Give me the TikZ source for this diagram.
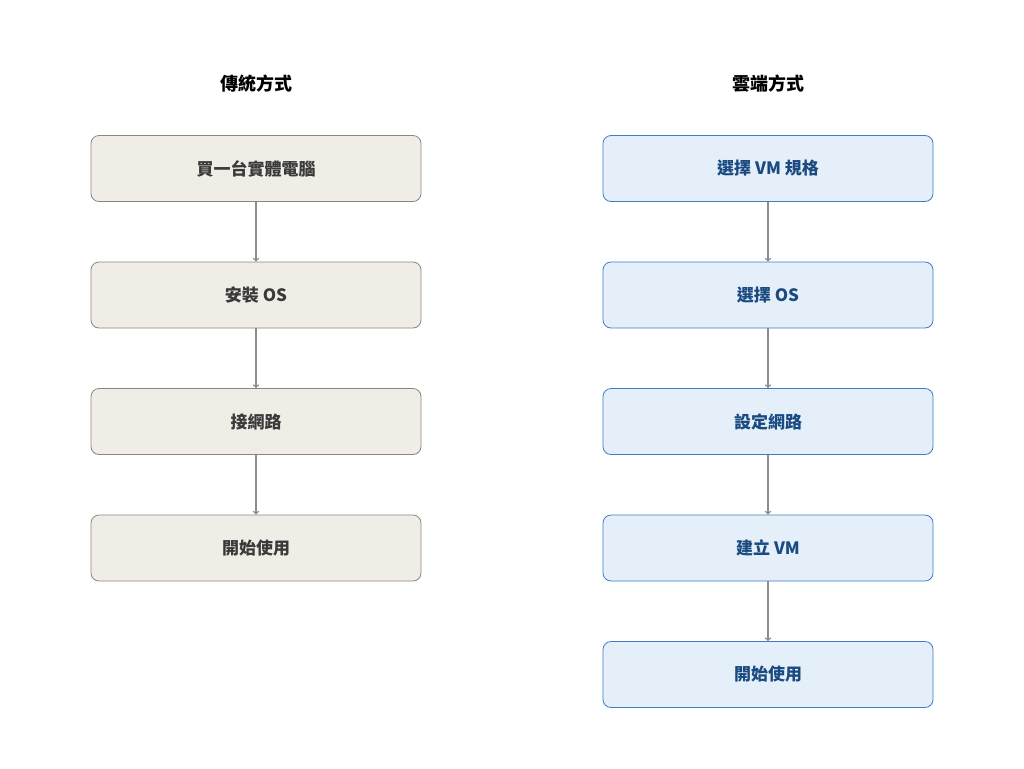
\documentclass[tikz,border=0pt]{standalone}
\usepackage{fontspec}
\setmainfont{Noto Sans CJK TC}
\usetikzlibrary{positioning}
\definecolor{oldfill}{HTML}{F0EDE6}
\definecolor{olddraw}{HTML}{8A8780}
\definecolor{oldtext}{HTML}{3A3A3A}
\definecolor{newfill}{HTML}{E4EFFA}
\definecolor{newdraw}{HTML}{3E7CC4}
\definecolor{newtext}{HTML}{1A4A80}
\begin{document}
\begin{tikzpicture}[x=1pt,y=-1pt,
    stage/.style={rectangle, rounded corners=8pt, minimum width=330pt, minimum height=66pt,
      line width=0.8pt, font=\fontsize{17}{20}\selectfont\bfseries},
    old/.style={stage, fill=oldfill, draw=olddraw, text=oldtext},
    new/.style={stage, fill=newfill, draw=newdraw, text=newtext},
    flow/.style={->, >=to, draw=gray!90, line width=1.4pt},
    title/.style={font=\fontsize{18}{22}\selectfont\bfseries, text=black}]
  \useasboundingbox (0,0) rectangle (1024,768);
  \node[title] (told) at (256,84) {傳統方式};
  \node[title] (tnew) at (768,84) {雲端方式};
  % traditional
  \node[old] (o1) at (256,168.5) {買一台實體電腦};
  \node[old] (o2) at (256,295) {安裝 OS};
  \node[old] (o3) at (256,421.5) {接網路};
  \node[old] (o4) at (256,548) {開始使用};
  % cloud
  \node[new] (n1) at (768,168.5) {選擇 VM 規格};
  \node[new] (n2) at (768,295) {選擇 OS};
  \node[new] (n3) at (768,421.5) {設定網路};
  \node[new] (n4) at (768,548) {建立 VM};
  \node[new] (n5) at (768,674.5) {開始使用};
  \foreach \a/\b in {o1/o2,o2/o3,o3/o4,n1/n2,n2/n3,n3/n4,n4/n5}
    \draw[flow] (\a) -- (\b);
\end{tikzpicture}
\end{document}
